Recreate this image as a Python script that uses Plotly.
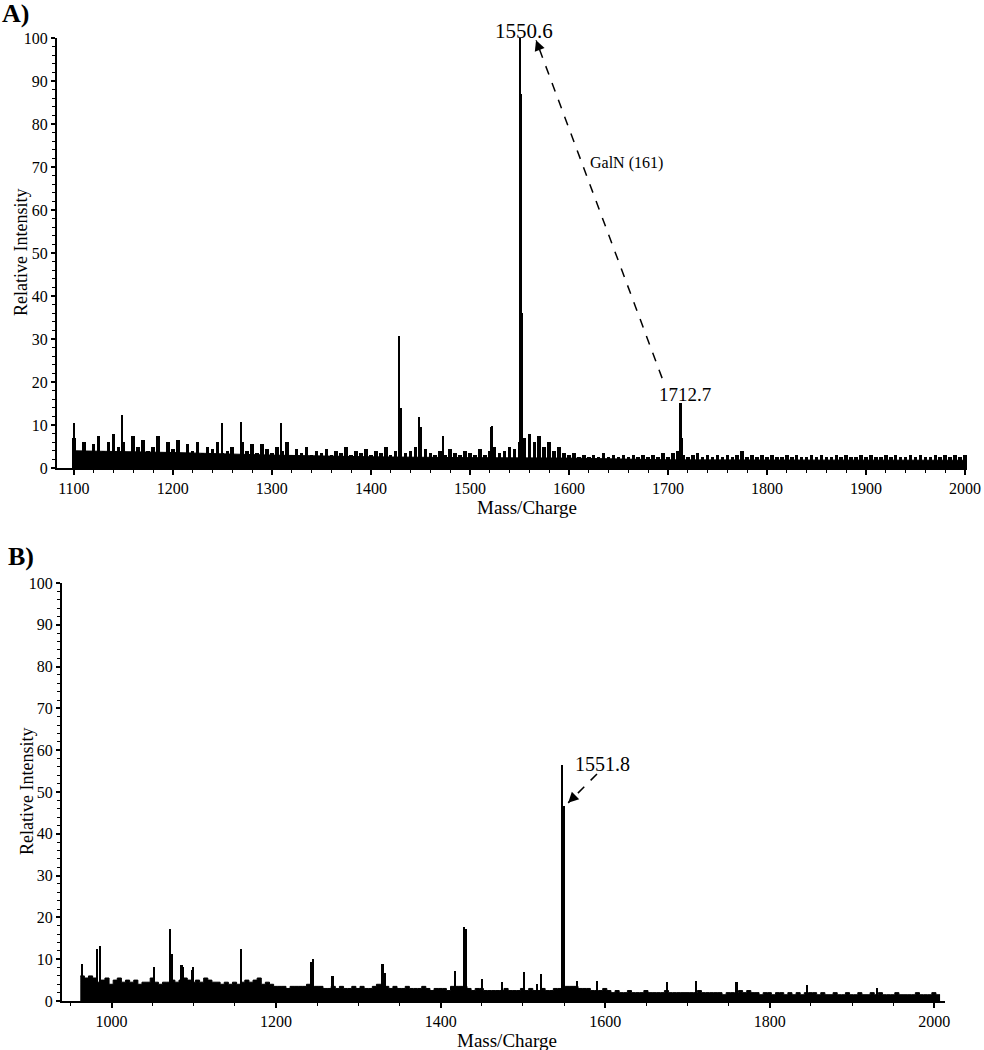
import plotly.graph_objects as go

# ---------------- Data ----------------
# Panel A: baseline noise spikes, sampled every 5 m/z from 1100 to 2000
noise_a_start = 1100
noise_a_step = 5
noise_a = [
    7, 4, 6, 3.5, 5.5, 7.5, 4, 6, 8, 5,
    6, 3.5, 7.5, 5, 6.5, 4, 5, 7.5, 3.5, 6,
    4.5, 6.5, 3.5, 5.5, 4, 6, 3.5, 5, 4.5, 6,
    3.5, 4, 5, 3, 6, 4, 5.5, 3.5, 5.5, 4.5,
    3.5, 5, 4, 6, 3, 4.5, 3.5, 5, 3, 4,
    3.5, 4.5, 3, 4, 3.5, 5, 3, 4, 3.5, 4.5,
    3, 4, 3.5, 5, 3, 4, 5, 3.5, 4, 5,
    3, 4.5, 3.5, 3, 4, 3, 4.5, 3.5, 3, 4,
    3.5, 3, 4.5, 3, 4, 5, 3.5, 4, 5, 4.5,
    6, 7, 8, 6, 7.5, 5, 6, 4, 5, 3.5,
    3, 3.5, 2.5, 3, 2.5, 3, 2.5, 3.5, 2.5, 3,
    2.5, 3, 2.5, 3, 2.5, 3, 2.5, 3, 2.5, 3.5,
    2.5, 3.5, 4, 3, 2.5, 3, 3.5, 2.5, 3, 2.5,
    3, 2.5, 3, 2.5, 3, 4, 2.5, 3, 2.5, 3,
    2.5, 3, 2.5, 2.5, 3, 2.5, 3, 2.5, 2.5, 3,
    2.5, 3, 2.5, 2.5, 3, 2.5, 3, 2.5, 2.5, 3,
    2.5, 3, 2.5, 2.5, 3, 2.5, 3, 2.5, 2.5, 3,
    2.5, 3, 2.5, 2.5, 3, 2.5, 3, 2.5, 3, 2.5,
    3,
]
# Panel A: solid lower part of the noise band, every 100 m/z from 1100 to 2000
floor_a_start = 1100
floor_a_step = 100
floor_a = [4.0, 3.6, 3.0, 2.6, 2.4, 2.3, 1.9, 1.9, 1.8, 1.8]

# Panel A: distinct peaks
peaks_a_mz = [1100.2, 1101.5, 1148.3, 1249.4, 1268.5, 1309.3, 1428.6, 1430.0,
              1448.7, 1450.0, 1472.9, 1521.0, 1522.4, 1550.6, 1551.8, 1553.0,
              1712.7, 1714.0]
peaks_a_int = [10.5, 7, 12.3, 10.5, 10.7, 10.5, 30.7, 14,
               11.9, 9.5, 7.4, 9.5, 9.8, 100, 87, 36,
               15.1, 7]

# Panel B: baseline noise envelope, sampled every 5 m/z from 962 to 2007
noise_b_start = 962
noise_b_step = 5
noise_b = [
    6, 5.5, 6, 5.5, 4.5, 5, 5.5, 4, 5, 5.5,
    4.5, 5, 4.5, 5, 4, 4.5, 4.5, 5.5, 4.5, 4,
    4.5, 4.5, 5, 4.5, 5, 5.5, 5, 4.5, 5, 4.5,
    5.5, 5, 4.5, 4.5, 4, 4.5, 4, 4.5, 4, 4.5,
    5, 4.5, 5, 5.5, 4, 4.5, 4, 3.5, 3.5, 3.5,
    3, 3.5, 3.5, 3.5, 3.5, 4, 3.5, 3.5, 3.5, 3,
    3, 3.5, 3, 3.5, 3, 3, 3.5, 3, 3.5, 3,
    3, 3.5, 4, 4, 3.5, 3, 3.5, 3, 3, 3.5,
    3, 3, 3, 3.5, 3, 2.5, 3, 3, 3, 2.5,
    3.5, 3.5, 3.5, 3.5, 3, 2.5, 3, 3, 2.5, 2.5,
    2.5, 2.5, 2.5, 3, 2.5, 2.5, 2.5, 3, 2.5, 3,
    2.5, 2.5, 3, 2.5, 2.5, 3, 3, 3.5, 3.5, 3.5,
    3.5, 3, 3, 3, 2.5, 2.5, 2.5, 3, 2.5, 2,
    2.5, 2, 2, 2.5, 2, 2, 2, 2.5, 2, 2,
    2, 2, 2.5, 2, 2, 2, 2, 2, 2, 2,
    2.5, 2, 2, 2, 2, 2, 1.5, 2, 2, 2,
    2.5, 2, 2.5, 2, 2, 1.5, 2, 2, 1.5, 2,
    2, 1.5, 2, 1.5, 2, 1.5, 2, 2, 2, 1.5,
    2, 1.5, 1.5, 2, 1.5, 1.5, 2, 1.5, 1.5, 2,
    1.5, 1.5, 2, 1.5, 2, 1.5, 1.5, 1.5, 2, 1.5,
    1.5, 1.5, 1.5, 2, 1.5, 1.5, 1.5, 2, 1.5, 1.5,
]
# Panel B: distinct peaks
peaks_b_mz = [964.1, 982.7, 986.0, 1052.0, 1071.0, 1073.1, 1085.2, 1087.2,
              1097.4, 1099.4, 1157.7, 1243.2, 1245.2, 1268.7, 1329.5, 1332.3,
              1417.4, 1428.4, 1430.9, 1450.2, 1474.5, 1501.2, 1517.0, 1521.9,
              1547.4, 1549.8, 1565.6, 1589.9, 1675.0, 1710.2, 1758.8, 1760.5,
              1845.1, 1930.2]
peaks_b_int = [8.9, 12.4, 13.2, 8.1, 17.2, 11.2, 8.5, 8.1,
               7.3, 8.1, 12.4, 9.3, 10.0, 6.1, 8.8, 6.8,
               7.2, 17.7, 17.3, 5.3, 4.6, 7.0, 4.0, 6.5,
               56.5, 46.7, 4.8, 4.8, 4.6, 4.8, 4.6, 4.6,
               3.8, 3.0]

# Labels
label_a_main = "1550.6"
label_a_second = "1712.7"
label_a_loss = "GalN (161)"
label_b_main = "1551.8"

# ---------------- Figure ----------------
FONT = "Liberation Serif"
W, H = 984, 1050

noise_a_mz = [noise_a_start + i * noise_a_step for i in range(len(noise_a))]
floor_a_mz = [floor_a_start + i * floor_a_step for i in range(len(floor_a))]
noise_b_mz = [noise_b_start + i * noise_b_step for i in range(len(noise_b))]

fig = go.Figure()

# Panel A
fig.add_trace(go.Scatter(x=floor_a_mz, y=floor_a, mode="lines",
                         line=dict(color="black", width=1), fill="tozeroy",
                         fillcolor="black", xaxis="x", yaxis="y",
                         hoverinfo="skip"))
fig.add_trace(go.Bar(x=noise_a_mz, y=noise_a, width=3.6,
                     marker=dict(color="black", line=dict(width=0)),
                     xaxis="x", yaxis="y", hoverinfo="skip"))
fig.add_trace(go.Bar(x=peaks_a_mz, y=peaks_a_int, width=2.2,
                     marker=dict(color="black", line=dict(width=0)),
                     xaxis="x", yaxis="y"))

# Panel B
fig.add_trace(go.Scatter(x=noise_b_mz, y=noise_b, mode="lines",
                         line=dict(color="black", width=1, shape="hv"),
                         fill="tozeroy", fillcolor="black",
                         xaxis="x2", yaxis="y2", hoverinfo="skip"))
fig.add_trace(go.Bar(x=peaks_b_mz, y=peaks_b_int, width=2.8,
                     marker=dict(color="black", line=dict(width=0)),
                     xaxis="x2", yaxis="y2"))


def xax(domain, rng, tick0, dtick, mdtick, anchor):
    return dict(domain=domain, range=rng, tick0=tick0, dtick=dtick,
                ticks="outside", ticklen=5, tickwidth=1.5, tickcolor="black",
                showline=True, linewidth=1.5, linecolor="black",
                showgrid=False, zeroline=False, anchor=anchor, automargin=False,
                tickfont=dict(family=FONT, size=16, color="black"),
                minor=dict(tick0=tick0, dtick=mdtick, ticks="outside",
                           ticklen=3, tickwidth=1, tickcolor="black"))


def yax(domain, anchor):
    return dict(domain=domain, range=[0, 100], tick0=0, dtick=10,
                ticks="outside", ticklen=4, tickwidth=1.5, tickcolor="black",
                showline=True, linewidth=2, linecolor="black",
                showgrid=False, zeroline=False, anchor=anchor, automargin=False,
                tickfont=dict(family=FONT, size=16, color="black"),
                minor=dict(dtick=2, ticks="outside", ticklen=3, tickwidth=1,
                           tickcolor="black"))


fig.update_layout(
    template="none",
    width=W, height=H, margin=dict(l=0, r=0, t=0, b=0, autoexpand=False),
    paper_bgcolor="white", plot_bgcolor="white", showlegend=False,
    barmode="overlay", bargap=0,
    xaxis=xax([57 / W, 967 / W], [1083, 2002], 1100, 100, 20, "y"),
    yaxis=yax([1 - 468 / H, 1 - 38 / H], "x"),
    xaxis2=xax([62 / W, 945 / W], [939.8, 2013], 1000, 200, 50, "y2"),
    yaxis2=yax([1 - 1001 / H, 1 - 583 / H], "x2"),
)

txt = dict(family=FONT, color="black")
ann = []
C = dict(xref="paper", yref="paper", xanchor="center", yanchor="middle",
         showarrow=False)
# panel letters
ann.append(dict(text="<b>A)</b>", x=15 / W, y=1 - 14 / H,
                font=dict(size=26, **txt), **C))
ann.append(dict(text="<b>B)</b>", x=21 / W, y=1 - 556 / H,
                font=dict(size=26, **txt), **C))
# axis titles
for (xx, yy) in [(21, 253), (27, 792)]:
    ann.append(dict(text="Relative Intensity", x=xx / W, y=1 - yy / H,
                    textangle=-90, font=dict(size=18, **txt), **C))
for (xx, yy) in [(527, 507), (507, 1040)]:
    ann.append(dict(text="Mass/Charge", x=xx / W, y=1 - yy / H,
                    font=dict(size=19, **txt), **C))

# Panel A peak labels
i_main = peaks_a_mz.index(1550.6)
i_sec = peaks_a_mz.index(1712.7)
ann.append(dict(text=label_a_main, x=peaks_a_mz[i_main] + 4, y=peaks_a_int[i_main],
                yshift=7, xref="x", yref="y", showarrow=False,
                font=dict(size=21, **txt)))
ann.append(dict(text=label_a_second, x=peaks_a_mz[i_sec] + 4.6, y=peaks_a_int[i_sec] + 1.9,
                xref="x", yref="y", showarrow=False, font=dict(size=19, **txt)))
ann.append(dict(text=label_a_loss, x=1619, y=70.9, xref="x", yref="y",
                xanchor="left", showarrow=False, font=dict(size=16, **txt)))

# dashed arrow A : from above 1712.7 to the 1550.6 peak
tail_a = (peaks_a_mz[i_sec] - 18.6, peaks_a_int[i_sec] + 5.8)
tip_a = (peaks_a_mz[i_main] + 16.2, peaks_a_int[i_main] - 0.5)
# dashed arrow B : from the label to the 1551.8 peak
i_b = peaks_b_mz.index(1547.4)
tail_b = (1590, 54.3)
tip_b = (peaks_b_mz[i_b] + 7.6, peaks_b_int[i_b] - 9.1)

shapes = []
for (tail, tip, xr, yr, f) in [(tail_a, tip_a, "x", "y", 0.03),
                               (tail_b, tip_b, "x2", "y2", 0.2)]:
    shapes.append(dict(type="line", xref=xr, yref=yr, x0=tail[0], y0=tail[1],
                       x1=tip[0], y1=tip[1],
                       line=dict(color="black", width=1.5, dash="dash")))
    ann.append(dict(text="", x=tip[0], y=tip[1], xref=xr, yref=yr,
                    ax=tip[0] + f * (tail[0] - tip[0]), ay=tip[1] + f * (tail[1] - tip[1]),
                    axref=xr, ayref=yr, showarrow=True, arrowhead=2,
                    arrowsize=1.6, arrowwidth=1.3, arrowcolor="black", standoff=0))

ann.append(dict(text=label_b_main, x=1597, y=56.7, xref="x2", yref="y2",
                showarrow=False, font=dict(size=20, **txt)))

fig.update_layout(annotations=ann, shapes=shapes)

fig.write_html(
    "out.html",
    config={"displayModeBar": False},
    post_script="document.body.style.margin='0';document.body.style.padding='0';",
)
